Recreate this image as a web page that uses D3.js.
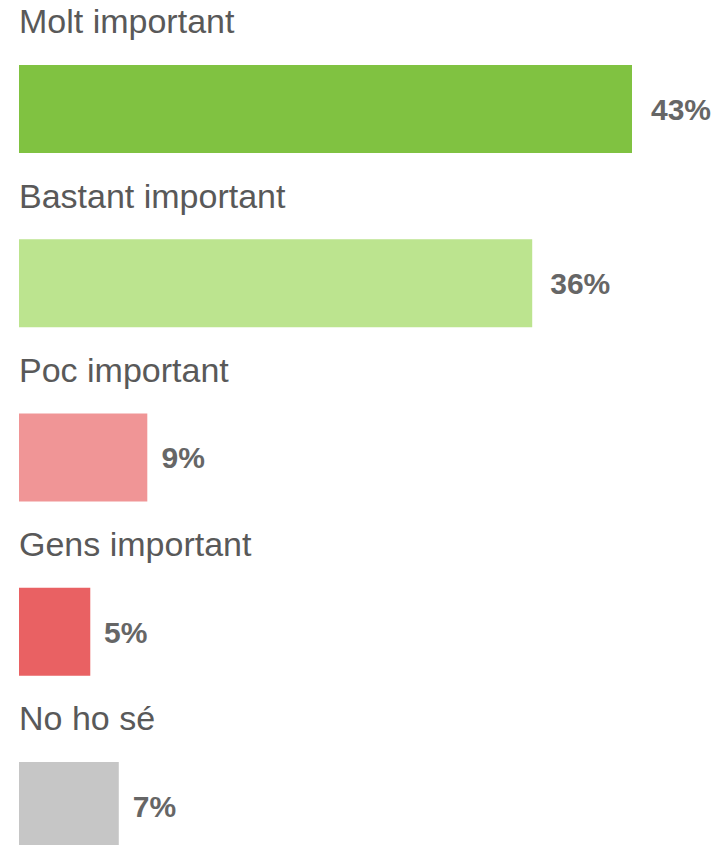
<!DOCTYPE html>
<html>
<head>
<meta charset="utf-8">
<script src="https://cdn.jsdelivr.net/npm/d3@7"></script>
<style>
html,body{margin:0;padding:0;background:#fff;}
svg{display:block;}
</style>
</head>
<body>
<svg id="chart" width="716" height="845"></svg>
<script>
const categories = ["Molt important", "Bastant important", "Poc important", "Gens important", "No ho sé"];
const values = [43, 36, 9, 5, 7];
const valueLabels = ["43%", "36%", "9%", "5%", "7%"];
const colors = ["#80c241", "#bce48f", "#f09596", "#e96163", "#c6c6c6"];

const svg = d3.select("#chart");
const left = 19;
const x = d3.scaleLinear().domain([0, 43]).range([0, 613]);
const labelX = d3.scaleLinear().domain([0, 43]).range([32, 651]);
const row = d3.scaleBand().domain(categories).range([0, 871.25]).padding(0);
const barOffset = 65, barH = 88;

const g = svg.selectAll("g.row").data(categories).join("g")
  .attr("class", "row")
  .attr("transform", d => `translate(0,${row(d)})`);

g.append("text")
  .attr("x", left)
  .attr("y", 33.3)
  .attr("font-family", "Liberation Sans, Arial, sans-serif")
  .attr("font-size", 34)
  .attr("fill", "#595959")
  .text(d => d);

g.append("rect")
  .attr("x", left)
  .attr("y", barOffset)
  .attr("height", barH)
  .attr("width", (d, i) => x(values[i]))
  .attr("fill", (d, i) => colors[i]);

g.append("text")
  .attr("x", (d, i) => labelX(values[i]))
  .attr("y", barOffset + barH / 2)
  .attr("dy", "0.36em")
  .attr("font-family", "Liberation Sans, Arial, sans-serif")
  .attr("font-size", 30)
  .attr("font-weight", "bold")
  .attr("fill", "#666666")
  .text((d, i) => valueLabels[i]);
</script>
</body>
</html>
